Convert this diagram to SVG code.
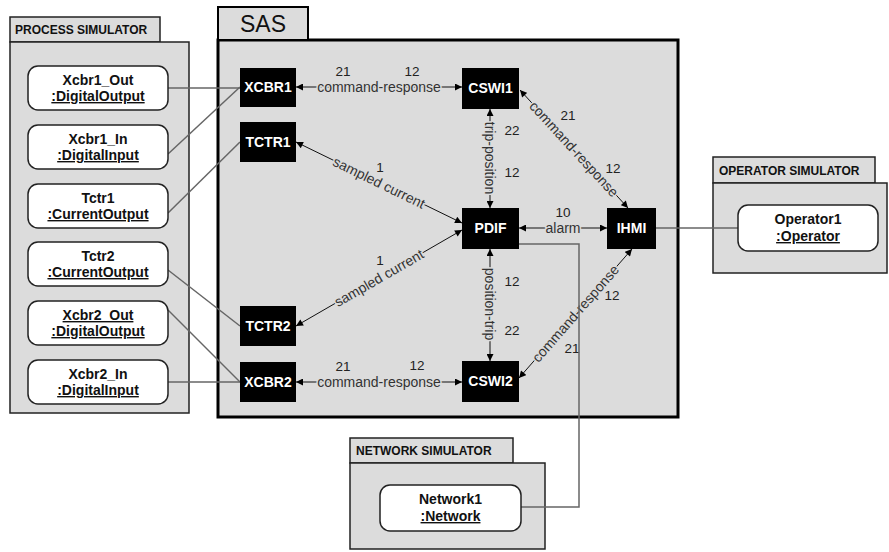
<svg xmlns="http://www.w3.org/2000/svg" width="889" height="552" viewBox="0 0 889 552">
<style>
.pkg{fill:#dcdcdc;stroke:#222;stroke-width:1.5}
.sas{fill:#dcdcdc;stroke:#000;stroke-width:3}
.tabtxt{font-family:"Liberation Sans",Arial,sans-serif;font-size:12px;font-weight:bold;fill:#111}
.obj{fill:#fff;stroke:#222;stroke-width:1.5}
.objtxt{font-family:"Liberation Sans",Arial,sans-serif;font-size:14px;font-weight:bold;fill:#111;text-anchor:middle}
.ln{fill:#000}
.lntxt{font-family:"Liberation Sans",Arial,sans-serif;font-size:14px;font-weight:bold;fill:#fff;text-anchor:middle}
.ext{fill:none;stroke:#666;stroke-width:1.5}
.rel{fill:none;stroke:#111;stroke-width:1;marker-start:url(#ah);marker-end:url(#ah)}
.lbl{font-family:"Liberation Sans",Arial,sans-serif;font-size:14px;fill:#333;text-anchor:middle;paint-order:stroke;stroke:#dcdcdc;stroke-width:3px;stroke-linejoin:round}
.num{font-family:"Liberation Sans",Arial,sans-serif;font-size:13.5px;fill:#222;text-anchor:middle}
.bg{fill:#dcdcdc}
</style>
<defs>
<marker id="ah" viewBox="0 0 10 10" refX="10" refY="5" markerWidth="8" markerHeight="7" markerUnits="userSpaceOnUse" orient="auto-start-reverse">
<path d="M0,0 L10,5 L0,10 z" fill="#000"/>
</marker>
</defs>
<rect width="889" height="552" fill="#fff"/>

<g id="process-simulator">
<rect class="pkg" x="10" y="17" width="150" height="25"/>
<rect class="pkg" x="10" y="42" width="179" height="371"/>
<text class="tabtxt" x="15" y="34">PROCESS SIMULATOR</text>
</g>
<g id="sas">
<rect class="sas" x="218" y="40" width="460" height="377"/>
<rect x="218" y="7" width="90" height="33" fill="#dcdcdc" stroke="#000" stroke-width="2"/>
<text x="263" y="32" font-family="'Liberation Sans',Arial,sans-serif" font-size="23" fill="#111" text-anchor="middle">SAS</text>
</g>
<g id="operator-simulator">
<rect class="pkg" x="713" y="157" width="162" height="26"/>
<rect class="pkg" x="713" y="183" width="174" height="90"/>
<text class="tabtxt" x="719" y="175">OPERATOR SIMULATOR</text>
</g>
<g id="network-simulator">
<rect class="pkg" x="350" y="438" width="163" height="25"/>
<rect class="pkg" x="350" y="463" width="195" height="86"/>
<text class="tabtxt" x="356" y="455">NETWORK SIMULATOR</text>
</g>

<g id="connectors">
<path class="ext" d="M168,88 H240"/>
<path class="ext" d="M168,154 L240,87"/>
<path class="ext" d="M168,213 L240,142"/>
<path class="ext" d="M168,270 L240,326"/>
<path class="ext" d="M168,310 L240,382"/>
<path class="ext" d="M168,382 H240"/>
<path class="ext" d="M656,228 H738"/>

<path class="rel" d="M296,87 H462"/>
<text class="lbl" x="379" y="87" dy=".35em">command-response</text>
<text class="num" x="343" y="71" dy=".35em">21</text>
<text class="num" x="412" y="71" dy=".35em">12</text>

<path class="rel" d="M490,109 V208"/>
<text class="lbl" transform="translate(490,158) rotate(90)" dy=".35em">trip-position</text>
<text class="num" x="512" y="130" dy=".35em">22</text>
<text class="num" x="512" y="172" dy=".35em">12</text>

<path class="rel" d="M520,90 L628,208"/>
<text class="lbl" transform="translate(574,149) rotate(47.5)" dy=".35em">command-response</text>
<text class="num" x="568" y="115" dy=".35em">21</text>
<text class="num" x="613" y="168" dy=".35em">12</text>

<path class="rel" d="M519,228 H607"/>
<text class="lbl" x="563" y="228" dy=".35em">alarm</text>
<text class="num" x="563" y="212" dy=".35em">10</text>

<path class="rel" d="M296,142 L462,223"/>
<g transform="translate(379,182.5) rotate(26)"><rect class="bg" x="-50" y="-6" width="100" height="12"/><text class="lbl" dy=".35em">sampled current</text></g>
<text class="num" x="380" y="167" dy=".35em">1</text>

<path class="rel" d="M296,326 L462,230"/>
<g transform="translate(379,278) rotate(-30)"><rect class="bg" x="-50" y="-6" width="100" height="12"/><text class="lbl" dy=".35em">sampled current</text></g>
<text class="num" x="380" y="260" dy=".35em">1</text>

<path class="rel" d="M490,249 V361"/>
<text class="lbl" transform="translate(490,304) rotate(90)" dy=".35em">position-trip</text>
<text class="num" x="512" y="281" dy=".35em">12</text>
<text class="num" x="512" y="330" dy=".35em">22</text>

<path class="rel" d="M519,378 L632,249"/>
<text class="lbl" transform="translate(575.5,313.5) rotate(-48.8)" dy=".35em">command-response</text>
<text class="num" x="612" y="295" dy=".35em">12</text>
<text class="num" x="572" y="348" dy=".35em">21</text>

<path class="rel" d="M296,382 H462"/>
<text class="lbl" x="379" y="382" dy=".35em">command-response</text>
<text class="num" x="343" y="366" dy=".35em">21</text>
<text class="num" x="417" y="365" dy=".35em">12</text>

<path class="ext" d="M519,244 H579 V507 H521"/>
</g>

<g id="xcbr1_out"><rect class="obj" x="28" y="66" width="140" height="44" rx="10"/><text class="objtxt" x="98" y="85">Xcbr1_Out</text><text class="objtxt" x="98" y="101" text-decoration="underline">:DigitalOutput</text></g>
<g id="xcbr1_in"><rect class="obj" x="28" y="125" width="140" height="44" rx="10"/><text class="objtxt" x="98" y="144">Xcbr1_In</text><text class="objtxt" x="98" y="160" text-decoration="underline">:DigitalInput</text></g>
<g id="tctr1_out"><rect class="obj" x="28" y="184" width="140" height="44" rx="10"/><text class="objtxt" x="98" y="203">Tctr1</text><text class="objtxt" x="98" y="219" text-decoration="underline">:CurrentOutput</text></g>
<g id="tctr2_out"><rect class="obj" x="28" y="242" width="140" height="44" rx="10"/><text class="objtxt" x="98" y="261">Tctr2</text><text class="objtxt" x="98" y="277" text-decoration="underline">:CurrentOutput</text></g>
<g id="xcbr2_out"><rect class="obj" x="28" y="301" width="140" height="44" rx="10"/><text class="objtxt" x="98" y="320" text-decoration="underline">Xcbr2_Out</text><text class="objtxt" x="98" y="336" text-decoration="underline">:DigitalOutput</text></g>
<g id="xcbr2_in"><rect class="obj" x="28" y="360" width="140" height="44" rx="10"/><text class="objtxt" x="98" y="379">Xcbr2_In</text><text class="objtxt" x="98" y="395" text-decoration="underline">:DigitalInput</text></g>

<g id="XCBR1"><rect class="ln" x="240" y="68" width="56" height="39"/><text class="lntxt" x="268" y="92">XCBR1</text></g>
<g id="TCTR1"><rect class="ln" x="240" y="122" width="56" height="40"/><text class="lntxt" x="268" y="147">TCTR1</text></g>
<g id="CSWI1"><rect class="ln" x="462" y="68" width="57" height="41"/><text class="lntxt" x="490.5" y="93">CSWI1</text></g>
<g id="PDIF"><rect class="ln" x="462" y="208" width="57" height="41"/><text class="lntxt" x="490.5" y="233">PDIF</text></g>
<g id="IHMI"><rect class="ln" x="607" y="208" width="49" height="41"/><text class="lntxt" x="631.5" y="233">IHMI</text></g>
<g id="TCTR2"><rect class="ln" x="240" y="306" width="56" height="40"/><text class="lntxt" x="268" y="331">TCTR2</text></g>
<g id="XCBR2"><rect class="ln" x="240" y="362" width="56" height="40"/><text class="lntxt" x="268" y="387">XCBR2</text></g>
<g id="CSWI2"><rect class="ln" x="462" y="361" width="57" height="41"/><text class="lntxt" x="490.5" y="386">CSWI2</text></g>

<g id="operator1"><rect class="obj" x="738" y="205" width="140" height="46" rx="10"/><text class="objtxt" x="808" y="224">Operator1</text><text class="objtxt" x="808" y="241" text-decoration="underline">:Operator</text></g>
<g id="network1"><rect class="obj" x="380" y="485" width="141" height="46" rx="10"/><text class="objtxt" x="450.5" y="504">Network1</text><text class="objtxt" x="450.5" y="521" text-decoration="underline">:Network</text></g>
</svg>
